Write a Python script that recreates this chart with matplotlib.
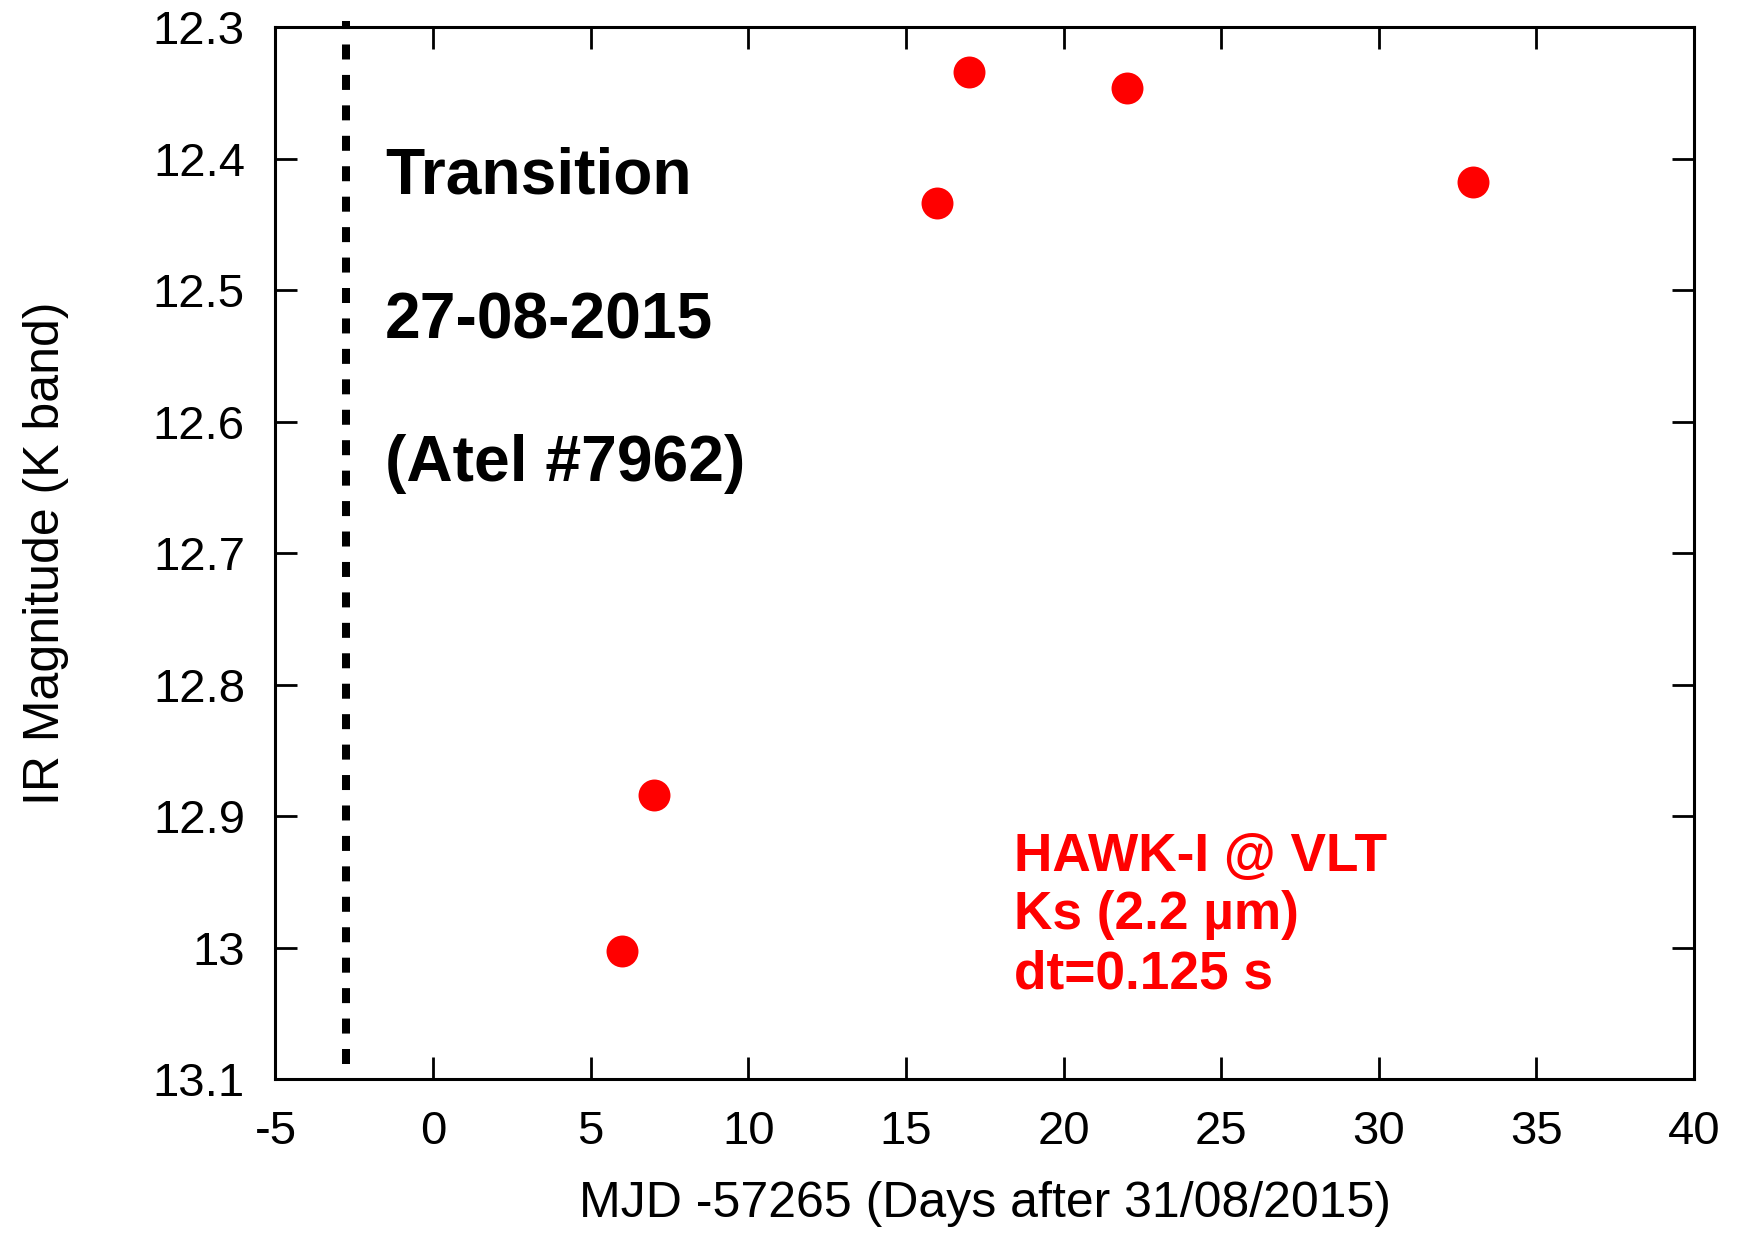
import matplotlib
matplotlib.use("Agg")
import matplotlib.pyplot as plt

plt.rcParams['font.family'] = ['Liberation Sans', 'DejaVu Sans']
plt.rcParams['axes.unicode_minus'] = False

# Data
days = [6, 7, 16, 17, 22, 33]
mag = [13.003, 12.884, 12.434, 12.334, 12.346, 12.418]
transition_day = -2.75
xticks = [-5, 0, 5, 10, 15, 20, 25, 30, 35, 40]
yticks = [12.3, 12.4, 12.5, 12.6, 12.7, 12.8, 12.9, 13.0, 13.1]
ytick_labels = ["12.3", "12.4", "12.5", "12.6", "12.7", "12.8", "12.9", "13", "13.1"]
note_lines = ["Transition", "27-08-2015", "(Atel #7962)"]
inst_lines = ["HAWK-I @ VLT", "Ks (2.2 µm)", "dt=0.125 s"]

fig = plt.figure(figsize=(17.49, 12.34), dpi=100)
ax = fig.add_axes([0.1575, 0.1256, 0.8111, 0.8525])

ax.plot(days, mag, linestyle='none', marker='o', markersize=23,
        color='#ff0000', markeredgewidth=0, zorder=3)

ax.plot([transition_day, transition_day], [13.0889, 12.2954], color='black',
        lw=5.76, linestyle=(0, (1.875, 1.93)), solid_capstyle='butt',
        dash_capstyle='butt', clip_on=False, zorder=2)

ax.set_xlim(-5, 40)
ax.set_ylim(13.1, 12.3)
ax.set_xticks(xticks)
ax.set_xticklabels([str(t) for t in xticks])
ax.set_yticks(yticks)
ax.set_yticklabels(ytick_labels)

ax.tick_params(direction='in', length=16, width=2, labelsize=34,
               top=True, right=True, pad=22)
ax.tick_params(axis='x', pad=22)
for s in ax.spines.values():
    s.set_linewidth(2.2)

ax.set_xlabel("MJD -57265 (Days after 31/08/2015)", fontsize=36, labelpad=20)
ax.set_ylabel("IR Magnitude (K band)", fontsize=36, labelpad=60)

note_y = [12.4264, 12.537, 12.645]
for txt, yy in zip(note_lines, note_y):
    ax.text(-1.52, yy, txt, fontsize=46.2, fontweight='bold', color='black',
            ha='left', va='baseline')

inst_y = [12.942, 12.986, 13.031]
for txt, yy in zip(inst_lines, inst_y):
    ax.text(18.42, yy, txt, fontsize=38.3, fontweight='bold', color='#ff0000',
            ha='left', va='baseline')

fig.savefig("out.png", dpi=100)
